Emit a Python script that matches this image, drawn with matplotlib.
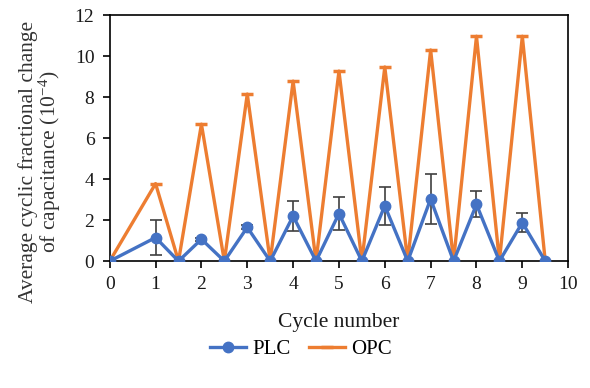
import matplotlib.pyplot as plt

plt.rcParams['font.family'] = ['Liberation Serif', 'DejaVu Serif']
plt.rcParams['mathtext.fontset'] = 'custom'
plt.rcParams['mathtext.rm'] = 'Liberation Serif'
plt.rcParams['mathtext.it'] = 'Liberation Serif:italic'

# cycle positions (loading at integers, unloading at halves)
cycles = [0, 1, 1.5, 2, 2.5, 3, 3.5, 4, 4.5, 5, 5.5, 6, 6.5, 7, 7.5, 8, 8.5, 9, 9.5]
plc = [0, 1.15, 0, 1.07, 0, 1.65, 0, 2.2, 0, 2.32, 0, 2.7, 0, 3.03, 0, 2.77, 0, 1.88, 0]
plc_err = [0, 0.85, 0, 0.08, 0, 0.1, 0, 0.72, 0, 0.8, 0, 0.92, 0, 1.22, 0, 0.64, 0, 0.48, 0]
opc = [0, 3.78, 0, 6.68, 0, 8.15, 0, 8.78, 0, 9.27, 0, 9.47, 0, 10.3, 0, 10.97, 0, 10.97, 0]

blue = '#4472C4'
orange = '#ED7D31'

fig = plt.figure(figsize=(5.9, 3.88), dpi=100)
ax = fig.add_axes([0.186, 0.327, 0.777, 0.634])

ax.plot(cycles, opc, color=orange, lw=2.4, marker='_', ms=9, mew=2.5, label='OPC', zorder=2)
ax.errorbar(cycles, plc, yerr=[e if e > 0 else float('nan') for e in plc_err],
            fmt='none', ecolor='#404040', elinewidth=1.2, capsize=4, capthick=1.2, zorder=3)
ax.plot(cycles, plc, color=blue, lw=2.4, marker='o', ms=7.5, label='PLC', zorder=4)

ax.set_xlim(0, 10)
ax.set_ylim(0, 12)
ax.set_xticks(range(0, 11))
ax.set_yticks(range(0, 13, 2))
ax.tick_params(direction='out', length=5, width=1.2, labelsize=14, pad=6, labelcolor='#1a1a1a')
for s in ax.spines.values():
    s.set_linewidth(1.2)

ax.set_xlabel('Cycle number', fontsize=15.5, labelpad=14, color='#1a1a1a')
ax.set_ylabel('Average cyclic fractional change\nof capacitance (10$^{-4}$)', fontsize=15.5,
              color='#333333', linespacing=0.95)
ax.yaxis.set_label_coords(-0.102, 0.405)

h, l = ax.get_legend_handles_labels()
fig.legend(h[::-1], l[::-1], loc='center', bbox_to_anchor=(0.51, 0.1), ncol=2, frameon=False,
           fontsize=15, handlelength=1.7, columnspacing=0.9, handletextpad=0.3)

fig.savefig('out.png', dpi=100)
